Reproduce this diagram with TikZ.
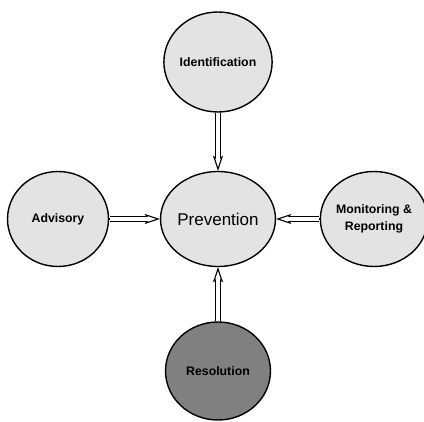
\documentclass[tikz,border=0pt]{standalone}
\usepackage{fontspec}
\setmainfont{Liberation Sans}
\usetikzlibrary{arrows.meta,shapes.geometric}
\begin{document}
\begin{tikzpicture}[x=1pt,y=-1pt,
  bubble/.style={ellipse, draw=black, line width=1.4pt, inner sep=0pt,
    align=center, font=\bfseries\fontsize{12.3}{17}\selectfont},
  light/.style={fill=black!11},
  dark/.style={fill=black!50},
  % hollow double-shaft arrow: black outer band, white core, open head
  flow/.style={line width=1.1pt,
    -{Stealth[length=15pt,width=10pt,inset=3pt,fill=white]},
    preaction={draw, arrows=-, line width=5.6pt, shorten >=9pt, shorten <=0.7pt},
    postaction={draw, arrows=-, white, line width=3.4pt, shorten >=9pt, shorten <=0.7pt}}
]
\useasboundingbox (0,0) rectangle (424,422);

\node[bubble, light, minimum width=94pt, minimum height=100pt] (ident) at (218,62) {Identification};
\node[bubble, light, minimum width=101pt, minimum height=95pt] (advis) at (58,219) {Advisory};
\node[bubble, light, minimum width=104pt, minimum height=95pt,
      font=\fontsize{17}{20}\selectfont] (prev) at (218,219) {Prevention};
\node[bubble, light, minimum width=94pt, minimum height=95pt] (monit) at (374,219) {Monitoring \&\\Reporting};
\node[bubble, dark, minimum width=105pt, minimum height=98pt] (resol) at (218,371) {Resolution};

\draw[flow] (ident) -- (prev);
\draw[flow] (advis) -- (prev);
\draw[flow] (monit) -- (prev);
\draw[flow] (resol) -- (prev);
\end{tikzpicture}
\end{document}
